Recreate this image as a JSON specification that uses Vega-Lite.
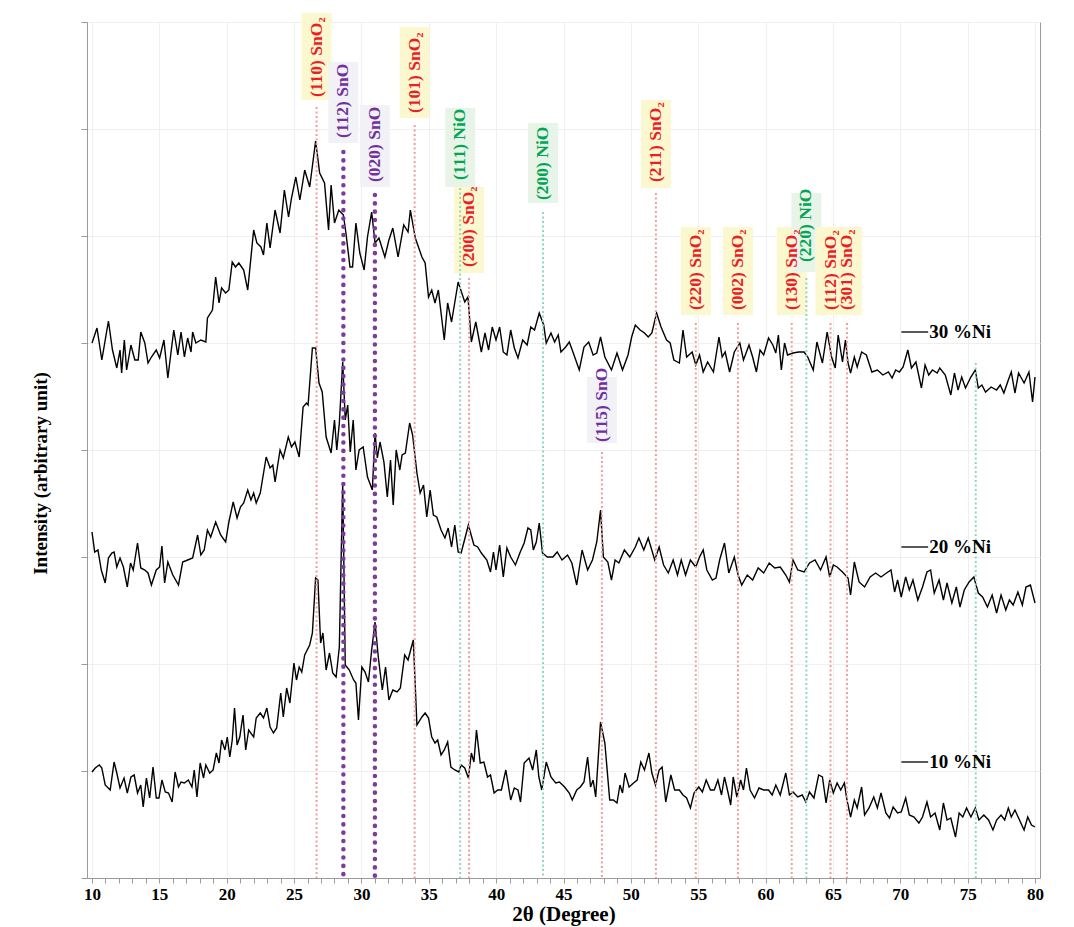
{
"$schema":"https://vega.github.io/schema/vega-lite/v6.json",
"autosize":{"type":"none"},
"padding":{"left":87,"top":22,"right":34,"bottom":49},
"width":953,"height":856,
"background":"white",
"config":{"view":{"stroke":"#9a9a9a","strokeWidth":1},"font":"Liberation Serif","axis":{"labelFont":"Liberation Serif","titleFont":"Liberation Serif","labelColor":"black","titleColor":"black","domainColor":"#9a9a9a","tickColor":"#9a9a9a","gridColor":"#efefef"}},
"datasets":{
"peaks":[
{"x":26.67,"phase":"SnO2","label":"(110) SnO₂","top":771,"ly":781,"bb":778,"bt":865},
{"x":28.66,"phase":"SnO","label":"(112) SnO","top":726,"ly":740,"bb":735,"bt":816},
{"x":31.0,"phase":"SnO","label":"(020) SnO","top":683,"ly":696,"bb":691,"bt":773},
{"x":33.95,"phase":"SnO2","label":"(101) SnO₂","top":753,"ly":765,"bb":760,"bt":851},
{"x":37.33,"phase":"NiO","label":"(111) NiO","top":690,"ly":698,"bb":691,"bt":770},
{"x":37.99,"phase":"SnO2","label":"(200) SnO₂","top":600,"ly":611,"bb":605,"bt":691},
{"x":43.48,"phase":"NiO","label":"(200) NiO","top":666,"ly":678,"bb":675,"bt":755},
{"x":47.85,"phase":"SnO","label":"(115) SnO","top":426,"ly":436,"bb":435,"bt":501},
{"x":51.86,"phase":"SnO2","label":"(211) SnO₂","top":685,"ly":696,"bb":690,"bt":778},
{"x":54.82,"phase":"SnO2","label":"(220) SnO₂","top":555,"ly":568,"bb":563,"bt":651},
{"x":57.95,"phase":"SnO2","label":"(002) SnO₂","top":555,"ly":568,"bb":563,"bt":651},
{"x":61.94,"phase":"SnO2","label":"(130) SnO₂","top":555,"ly":568,"bb":563,"bt":651},
{"x":63.03,"phase":"NiO","label":"(220) NiO","top":600,"ly":616,"bb":606,"bt":685},
{"x":64.82,"phase":"SnO2","label":"(112) SnO₂","top":555,"ly":568,"bb":563,"bt":651},
{"x":66.04,"phase":"SnO2","label":"(301) SnO₂","top":555,"ly":568,"bb":563,"bt":651},
{"x":75.6,"phase":"NiO","label":null,"top":515}
],
"keys":[
{"s":"30 %Ni","x":70.08,"x2":72.07,"v":546},
{"s":"20 %Ni","x":70.08,"x2":72.07,"v":331},
{"s":"10 %Ni","x":70.08,"x2":72.07,"v":116}
],
"xrd":[
{"s":"30","x":10,"v":535},{"s":"30","x":10.37,"v":550},{"s":"30","x":10.73,"v":518},{"s":"30","x":11.22,"v":557},{"s":"30","x":11.52,"v":528},{"s":"30","x":11.84,"v":510},{"s":"30","x":12.08,"v":528},{"s":"30","x":12.2,"v":505},{"s":"30","x":12.4,"v":538},{"s":"30","x":12.57,"v":508},{"s":"30","x":12.89,"v":533},{"s":"30","x":13.18,"v":518},{"s":"30","x":13.43,"v":518},{"s":"30","x":13.62,"v":546},{"s":"30","x":13.92,"v":535},{"s":"30","x":14.16,"v":515},{"s":"30","x":14.41,"v":521},{"s":"30","x":14.77,"v":528},{"s":"30","x":15.02,"v":520},{"s":"30","x":15.34,"v":538},{"s":"30","x":15.63,"v":500},{"s":"30","x":16.07,"v":548},{"s":"30","x":16.37,"v":523},{"s":"30","x":16.61,"v":546},{"s":"30","x":16.86,"v":521},{"s":"30","x":17.1,"v":540},{"s":"30","x":17.35,"v":526},{"s":"30","x":17.47,"v":546},{"s":"30","x":17.71,"v":535},{"s":"30","x":18.08,"v":538},{"s":"30","x":18.45,"v":536},{"s":"30","x":18.57,"v":560},{"s":"30","x":18.94,"v":568},{"s":"30","x":19.18,"v":601},{"s":"30","x":19.43,"v":575},{"s":"30","x":19.62,"v":590},{"s":"30","x":19.92,"v":585},{"s":"30","x":20.16,"v":588},{"s":"30","x":20.41,"v":616},{"s":"30","x":20.65,"v":611},{"s":"30","x":20.9,"v":615},{"s":"30","x":21.26,"v":608},{"s":"30","x":21.56,"v":588},{"s":"30","x":22,"v":648},{"s":"30","x":22.24,"v":635},{"s":"30","x":22.54,"v":631},{"s":"30","x":22.73,"v":623},{"s":"30","x":22.98,"v":655},{"s":"30","x":23.22,"v":630},{"s":"30","x":23.59,"v":668},{"s":"30","x":23.96,"v":645},{"s":"30","x":24.28,"v":688},{"s":"30","x":24.59,"v":661},{"s":"30","x":24.81,"v":680},{"s":"30","x":25.13,"v":701},{"s":"30","x":25.43,"v":678},{"s":"30","x":25.79,"v":708},{"s":"30","x":26.16,"v":691},{"s":"30","x":26.6,"v":737},{"s":"30","x":26.9,"v":705},{"s":"30","x":27.26,"v":695},{"s":"30","x":27.56,"v":648},{"s":"30","x":27.75,"v":693},{"s":"30","x":28,"v":655},{"s":"30","x":28.32,"v":668},{"s":"30","x":28.66,"v":663},{"s":"30","x":28.85,"v":645},{"s":"30","x":29.15,"v":611},{"s":"30","x":29.34,"v":611},{"s":"30","x":29.59,"v":655},{"s":"30","x":29.88,"v":625},{"s":"30","x":30.2,"v":608},{"s":"30","x":30.45,"v":641},{"s":"30","x":30.76,"v":666},{"s":"30","x":31.01,"v":635},{"s":"30","x":31.3,"v":640},{"s":"30","x":31.74,"v":621},{"s":"30","x":32.04,"v":638},{"s":"30","x":32.33,"v":650},{"s":"30","x":32.72,"v":621},{"s":"30","x":33.14,"v":653},{"s":"30","x":33.46,"v":646},{"s":"30","x":33.63,"v":668},{"s":"30","x":34,"v":640},{"s":"30","x":34.49,"v":621},{"s":"30","x":34.73,"v":615},{"s":"30","x":34.98,"v":581},{"s":"30","x":35.22,"v":588},{"s":"30","x":35.46,"v":575},{"s":"30","x":35.71,"v":588},{"s":"30","x":36.15,"v":538},{"s":"30","x":36.4,"v":575},{"s":"30","x":36.69,"v":556},{"s":"30","x":37.18,"v":596},{"s":"30","x":37.67,"v":576},{"s":"30","x":37.91,"v":581},{"s":"30","x":38.16,"v":536},
{"s":"30","x":38.49,"v":556},{"s":"30","x":38.9,"v":526},{"s":"30","x":39.17,"v":545},{"s":"30","x":39.44,"v":528},{"s":"30","x":39.71,"v":551},{"s":"30","x":39.99,"v":538},{"s":"30","x":40.26,"v":551},{"s":"30","x":40.53,"v":526},{"s":"30","x":40.8,"v":523},{"s":"30","x":41.08,"v":548},{"s":"30","x":41.35,"v":530},{"s":"30","x":41.62,"v":520},{"s":"30","x":41.97,"v":538},{"s":"30","x":42.3,"v":533},{"s":"30","x":42.57,"v":551},{"s":"30","x":42.85,"v":548},{"s":"30","x":43.2,"v":565},{"s":"30","x":43.53,"v":553},{"s":"30","x":43.72,"v":535},{"s":"30","x":44.07,"v":545},{"s":"30","x":44.34,"v":536},{"s":"30","x":44.61,"v":543},{"s":"30","x":44.81,"v":526},{"s":"30","x":45.16,"v":531},{"s":"30","x":45.43,"v":536},{"s":"30","x":45.7,"v":526},{"s":"30","x":46.17,"v":508},{"s":"30","x":46.52,"v":531},{"s":"30","x":46.87,"v":536},{"s":"30","x":47.2,"v":523},{"s":"30","x":47.47,"v":525},{"s":"30","x":47.75,"v":541},{"s":"30","x":48.07,"v":521},{"s":"30","x":48.56,"v":508},{"s":"30","x":48.97,"v":525},{"s":"30","x":49.38,"v":508},{"s":"30","x":49.79,"v":523},{"s":"30","x":50.06,"v":541},{"s":"30","x":50.33,"v":553},{"s":"30","x":50.69,"v":548},{"s":"30","x":51.01,"v":545},{"s":"30","x":51.29,"v":541},{"s":"30","x":51.56,"v":545},{"s":"30","x":51.91,"v":565},{"s":"30","x":52.24,"v":551},{"s":"30","x":52.65,"v":538},{"s":"30","x":52.92,"v":535},{"s":"30","x":53.19,"v":518},{"s":"30","x":53.6,"v":515},{"s":"30","x":53.87,"v":548},{"s":"30","x":54.14,"v":521},{"s":"30","x":54.55,"v":526},{"s":"30","x":54.82,"v":513},{"s":"30","x":55.1,"v":523},{"s":"30","x":55.37,"v":506},{"s":"30","x":55.7,"v":516},{"s":"30","x":56.13,"v":506},{"s":"30","x":56.54,"v":541},{"s":"30","x":56.78,"v":521},{"s":"30","x":57,"v":526},{"s":"30","x":57.33,"v":506},{"s":"30","x":57.68,"v":526},{"s":"30","x":58.09,"v":535},{"s":"30","x":58.36,"v":518},{"s":"30","x":58.77,"v":533},{"s":"30","x":59.04,"v":521},{"s":"30","x":59.32,"v":506},{"s":"30","x":59.59,"v":528},{"s":"30","x":59.86,"v":523},{"s":"30","x":60.22,"v":540},{"s":"30","x":60.54,"v":533},{"s":"30","x":60.76,"v":525},{"s":"30","x":60.95,"v":543},{"s":"30","x":61.17,"v":508},{"s":"30","x":61.41,"v":535},{"s":"30","x":61.63,"v":523},{"s":"30","x":62.04,"v":525},{"s":"30","x":62.45,"v":526},{"s":"30","x":62.86,"v":526},{"s":"30","x":63.13,"v":521},{"s":"30","x":63.54,"v":508},{"s":"30","x":63.81,"v":536},{"s":"30","x":64.22,"v":515},{"s":"30","x":64.57,"v":546},{"s":"30","x":64.9,"v":521},{"s":"30","x":65.17,"v":510},{"s":"30","x":65.39,"v":543},{"s":"30","x":65.71,"v":516},{"s":"30","x":65.93,"v":538},{"s":"30","x":66.12,"v":515},{"s":"30","x":66.31,"v":505},{"s":"30","x":66.59,"v":521},{"s":"30","x":66.8,"v":511},{"s":"30","x":67.13,"v":526},{"s":"30","x":67.48,"v":523},{"s":"30","x":67.89,"v":506},{"s":"30","x":68.3,"v":508},{"s":"30","x":68.71,"v":503},{"s":"30","x":69.12,"v":506},{"s":"30","x":69.39,"v":500},{"s":"30","x":69.66,"v":508},{"s":"30","x":69.93,"v":506},{"s":"30","x":70.21,"v":511},{"s":"30","x":70.56,"v":528},{"s":"30","x":70.83,"v":510},{"s":"30","x":71.16,"v":516},{"s":"30","x":71.57,"v":490},{"s":"30","x":71.84,"v":513},{"s":"30","x":72.11,"v":503},{"s":"30","x":72.39,"v":508},{"s":"30","x":72.74,"v":505},{"s":"30","x":72.93,"v":510},{"s":"30","x":73.34,"v":503},{"s":"30","x":73.75,"v":483},{"s":"30","x":74.02,"v":505},{"s":"30","x":74.29,"v":488},{"s":"30","x":74.56,"v":501},{"s":"30","x":74.84,"v":490},{"s":"30","x":75.24,"v":501},{"s":"30","x":75.57,"v":508},{"s":"30","x":75.79,"v":490},{"s":"30","x":76.06,"v":493},{"s":"30","x":76.33,"v":486},{"s":"30","x":76.74,"v":491},{"s":"30","x":77.15,"v":488},{"s":"30","x":77.42,"v":493},{"s":"30","x":77.69,"v":485},{"s":"30","x":78.02,"v":498},{"s":"30","x":78.24,"v":506},{"s":"30","x":78.51,"v":485},{"s":"30","x":78.78,"v":505},{"s":"30","x":79.19,"v":495},{"s":"30","x":79.55,"v":506},{"s":"30","x":79.82,"v":476},{"s":"30","x":80,"v":501},
{"s":"20","x":10,"v":346},{"s":"20","x":10.2,"v":326},{"s":"20","x":10.44,"v":328},{"s":"20","x":10.69,"v":308},{"s":"20","x":10.98,"v":295},{"s":"20","x":11.22,"v":320},{"s":"20","x":11.47,"v":325},{"s":"20","x":11.64,"v":326},{"s":"20","x":11.84,"v":311},{"s":"20","x":12.08,"v":320},{"s":"20","x":12.33,"v":311},{"s":"20","x":12.62,"v":291},{"s":"20","x":12.86,"v":315},{"s":"20","x":13.06,"v":308},{"s":"20","x":13.38,"v":335},{"s":"20","x":13.62,"v":310},{"s":"20","x":13.92,"v":308},{"s":"20","x":14.16,"v":305},{"s":"20","x":14.41,"v":293},{"s":"20","x":14.77,"v":308},{"s":"20","x":15.02,"v":311},{"s":"20","x":15.19,"v":332},{"s":"20","x":15.39,"v":295},{"s":"20","x":15.63,"v":316},{"s":"20","x":16,"v":303},{"s":"20","x":16.42,"v":293},{"s":"20","x":16.73,"v":316},{"s":"20","x":17.1,"v":318},{"s":"20","x":17.47,"v":320},{"s":"20","x":17.84,"v":343},{"s":"20","x":18.08,"v":323},{"s":"20","x":18.33,"v":328},{"s":"20","x":18.57,"v":348},{"s":"20","x":18.81,"v":341},{"s":"20","x":19.18,"v":356},{"s":"20","x":19.55,"v":343},{"s":"20","x":19.92,"v":336},{"s":"20","x":20.16,"v":356},{"s":"20","x":20.48,"v":376},{"s":"20","x":20.77,"v":360},{"s":"20","x":21.02,"v":371},{"s":"20","x":21.26,"v":375},{"s":"20","x":21.56,"v":388},{"s":"20","x":21.8,"v":378},{"s":"20","x":22,"v":385},{"s":"20","x":22.19,"v":375},{"s":"20","x":22.49,"v":385},{"s":"20","x":22.93,"v":421},{"s":"20","x":23.22,"v":410},{"s":"20","x":23.42,"v":413},{"s":"20","x":23.59,"v":396},{"s":"20","x":23.96,"v":428},{"s":"20","x":24.2,"v":420},{"s":"20","x":24.57,"v":441},{"s":"20","x":24.81,"v":431},{"s":"20","x":25.06,"v":436},{"s":"20","x":25.38,"v":421},{"s":"20","x":25.67,"v":471},{"s":"20","x":25.92,"v":475},{"s":"20","x":26.04,"v":473},{"s":"20","x":26.36,"v":530},{"s":"20","x":26.6,"v":530},{"s":"20","x":26.85,"v":495},{"s":"20","x":27.09,"v":486},{"s":"20","x":27.38,"v":441},{"s":"20","x":27.75,"v":425},{"s":"20","x":28,"v":458},{"s":"20","x":28.17,"v":428},{"s":"20","x":28.36,"v":455},{"s":"20","x":28.61,"v":516},{"s":"20","x":28.8,"v":458},{"s":"20","x":28.98,"v":473},{"s":"20","x":29.17,"v":426},{"s":"20","x":29.39,"v":458},{"s":"20","x":29.59,"v":408},{"s":"20","x":29.83,"v":428},{"s":"20","x":30.13,"v":431},{"s":"20","x":30.45,"v":401},{"s":"20","x":30.81,"v":388},{"s":"20","x":31.01,"v":445},{"s":"20","x":31.18,"v":420},{"s":"20","x":31.38,"v":436},{"s":"20","x":31.67,"v":416},{"s":"20","x":31.92,"v":381},{"s":"20","x":32.16,"v":418},{"s":"20","x":32.36,"v":373},{"s":"20","x":32.58,"v":428},{"s":"20","x":32.85,"v":408},{"s":"20","x":33.02,"v":423},{"s":"20","x":33.26,"v":425},{"s":"20","x":33.58,"v":455},{"s":"20","x":33.8,"v":443},{"s":"20","x":34.12,"v":405},{"s":"20","x":34.36,"v":385},{"s":"20","x":34.61,"v":393},{"s":"20","x":34.85,"v":361},{"s":"20","x":35.1,"v":388},{"s":"20","x":35.34,"v":363},{"s":"20","x":35.59,"v":361},{"s":"20","x":35.91,"v":348},{"s":"20","x":36.2,"v":340},{"s":"20","x":36.44,"v":350},{"s":"20","x":36.69,"v":331},{"s":"20","x":36.93,"v":353},{"s":"20","x":37.18,"v":326},
{"s":"20","x":37.4,"v":325},{"s":"20","x":37.94,"v":353},{"s":"20","x":38.35,"v":333},{"s":"20","x":38.63,"v":331},{"s":"20","x":38.9,"v":325},{"s":"20","x":39.31,"v":318},{"s":"20","x":39.58,"v":306},{"s":"20","x":39.8,"v":326},{"s":"20","x":39.99,"v":308},{"s":"20","x":40.26,"v":333},{"s":"20","x":40.53,"v":301},{"s":"20","x":40.8,"v":330},{"s":"20","x":41.08,"v":321},{"s":"20","x":41.43,"v":313},{"s":"20","x":41.76,"v":325},{"s":"20","x":42.08,"v":335},{"s":"20","x":42.36,"v":350},{"s":"20","x":42.57,"v":348},{"s":"20","x":42.76,"v":328},{"s":"20","x":42.98,"v":336},{"s":"20","x":43.2,"v":355},{"s":"20","x":43.44,"v":325},{"s":"20","x":43.8,"v":321},{"s":"20","x":44.21,"v":321},{"s":"20","x":44.53,"v":326},{"s":"20","x":44.89,"v":318},{"s":"20","x":45.3,"v":323},{"s":"20","x":45.62,"v":315},{"s":"20","x":45.98,"v":293},{"s":"20","x":46.38,"v":328},{"s":"20","x":46.79,"v":308},{"s":"20","x":47.15,"v":318},{"s":"20","x":47.47,"v":336},{"s":"20","x":47.75,"v":368},{"s":"20","x":47.96,"v":321},{"s":"20","x":48.29,"v":316},{"s":"20","x":48.56,"v":298},{"s":"20","x":48.83,"v":318},{"s":"20","x":49.11,"v":315},{"s":"20","x":49.52,"v":328},{"s":"20","x":49.92,"v":321},{"s":"20","x":50.33,"v":331},{"s":"20","x":50.6,"v":340},{"s":"20","x":50.96,"v":328},{"s":"20","x":51.29,"v":340},{"s":"20","x":51.77,"v":318},{"s":"20","x":52.1,"v":331},{"s":"20","x":52.43,"v":313},{"s":"20","x":52.78,"v":305},{"s":"20","x":53.14,"v":318},{"s":"20","x":53.46,"v":303},{"s":"20","x":53.74,"v":318},{"s":"20","x":54.06,"v":303},{"s":"20","x":54.42,"v":318},{"s":"20","x":54.82,"v":311},{"s":"20","x":55.1,"v":321},{"s":"20","x":55.37,"v":328},{"s":"20","x":55.64,"v":308},{"s":"20","x":56.05,"v":298},{"s":"20","x":56.32,"v":300},{"s":"20","x":56.59,"v":318},{"s":"20","x":56.95,"v":335},{"s":"20","x":57.27,"v":305},{"s":"20","x":57.68,"v":321},{"s":"20","x":57.96,"v":303},{"s":"20","x":58.23,"v":293},{"s":"20","x":58.64,"v":303},{"s":"20","x":59.04,"v":298},{"s":"20","x":59.45,"v":310},{"s":"20","x":59.86,"v":305},{"s":"20","x":60.27,"v":315},{"s":"20","x":60.68,"v":310},{"s":"20","x":61.09,"v":311},{"s":"20","x":61.5,"v":303},{"s":"20","x":61.77,"v":296},{"s":"20","x":62.04,"v":318},{"s":"20","x":62.39,"v":308},{"s":"20","x":62.86,"v":306},{"s":"20","x":63.26,"v":315},{"s":"20","x":63.67,"v":318},{"s":"20","x":64.08,"v":308},{"s":"20","x":64.49,"v":321},{"s":"20","x":64.76,"v":301},{"s":"20","x":65.03,"v":313},{"s":"20","x":65.31,"v":311},{"s":"20","x":65.71,"v":306},{"s":"20","x":66.12,"v":300},{"s":"20","x":66.31,"v":283},{"s":"20","x":66.59,"v":316},{"s":"20","x":66.94,"v":296},{"s":"20","x":67.35,"v":291},{"s":"20","x":67.76,"v":301},{"s":"20","x":68.17,"v":305},{"s":"20","x":68.57,"v":301},{"s":"20","x":68.98,"v":305},{"s":"20","x":69.31,"v":308},{"s":"20","x":69.58,"v":286},{"s":"20","x":69.8,"v":298},{"s":"20","x":70.07,"v":281},{"s":"20","x":70.4,"v":301},{"s":"20","x":70.67,"v":288},{"s":"20","x":70.94,"v":298},{"s":"20","x":71.3,"v":278},{"s":"20","x":71.65,"v":291},{"s":"20","x":71.98,"v":306},{"s":"20","x":72.25,"v":308},{"s":"20","x":72.52,"v":285},{"s":"20","x":72.88,"v":298},{"s":"20","x":73.2,"v":278},{"s":"20","x":73.47,"v":295},{"s":"20","x":73.83,"v":275},{"s":"20","x":74.16,"v":291},{"s":"20","x":74.43,"v":271},{"s":"20","x":74.75,"v":288},{"s":"20","x":75.11,"v":296},{"s":"20","x":75.46,"v":301},{"s":"20","x":75.79,"v":285},{"s":"20","x":76.11,"v":281},{"s":"20","x":76.47,"v":271},{"s":"20","x":76.82,"v":283},{"s":"20","x":77.15,"v":265},{"s":"20","x":77.48,"v":283},{"s":"20","x":77.83,"v":268},{"s":"20","x":78.1,"v":278},{"s":"20","x":78.38,"v":273},{"s":"20","x":78.73,"v":286},{"s":"20","x":79.06,"v":273},{"s":"20","x":79.33,"v":291},{"s":"20","x":79.66,"v":293},{"s":"20","x":80,"v":275},
{"s":"10","x":10,"v":106},{"s":"10","x":10.24,"v":110},{"s":"10","x":10.54,"v":113},{"s":"10","x":10.73,"v":110},{"s":"10","x":10.98,"v":93},{"s":"10","x":11.35,"v":88},{"s":"10","x":11.64,"v":116},{"s":"10","x":11.84,"v":105},{"s":"10","x":12.08,"v":90},{"s":"10","x":12.38,"v":100},{"s":"10","x":12.62,"v":85},{"s":"10","x":12.89,"v":101},{"s":"10","x":13.13,"v":103},{"s":"10","x":13.38,"v":85},{"s":"10","x":13.62,"v":93},{"s":"10","x":13.8,"v":71},{"s":"10","x":14.04,"v":100},{"s":"10","x":14.28,"v":80},{"s":"10","x":14.53,"v":111},{"s":"10","x":14.77,"v":80},{"s":"10","x":14.97,"v":80},{"s":"10","x":15.19,"v":98},{"s":"10","x":15.44,"v":86},{"s":"10","x":15.68,"v":85},{"s":"10","x":15.95,"v":76},{"s":"10","x":16.17,"v":106},{"s":"10","x":16.42,"v":91},{"s":"10","x":16.61,"v":96},{"s":"10","x":16.86,"v":95},{"s":"10","x":17.15,"v":98},{"s":"10","x":17.42,"v":91},{"s":"10","x":17.59,"v":108},{"s":"10","x":17.79,"v":81},{"s":"10","x":18.03,"v":115},{"s":"10","x":18.28,"v":100},{"s":"10","x":18.45,"v":113},{"s":"10","x":18.74,"v":105},{"s":"10","x":18.99,"v":108},{"s":"10","x":19.23,"v":125},{"s":"10","x":19.43,"v":115},{"s":"10","x":19.62,"v":138},{"s":"10","x":19.87,"v":128},{"s":"10","x":20.04,"v":141},{"s":"10","x":20.23,"v":121},{"s":"10","x":20.41,"v":138},{"s":"10","x":20.58,"v":170},{"s":"10","x":20.77,"v":133},{"s":"10","x":20.97,"v":141},{"s":"10","x":21.21,"v":163},{"s":"10","x":21.41,"v":128},{"s":"10","x":21.63,"v":148},{"s":"10","x":22,"v":141},{"s":"10","x":22.19,"v":160},{"s":"10","x":22.49,"v":165},{"s":"10","x":22.73,"v":160},{"s":"10","x":22.98,"v":170},{"s":"10","x":23.22,"v":151},{"s":"10","x":23.47,"v":145},{"s":"10","x":23.71,"v":150},{"s":"10","x":24.01,"v":185},{"s":"10","x":24.2,"v":161},{"s":"10","x":24.45,"v":190},{"s":"10","x":24.69,"v":175},{"s":"10","x":24.99,"v":215},{"s":"10","x":25.18,"v":198},{"s":"10","x":25.38,"v":211},{"s":"10","x":25.57,"v":206},{"s":"10","x":25.79,"v":223},{"s":"10","x":26.16,"v":233},{"s":"10","x":26.36,"v":245},{"s":"10","x":26.6,"v":300},{"s":"10","x":26.77,"v":298},{"s":"10","x":26.97,"v":235},{"s":"10","x":27.14,"v":245},{"s":"10","x":27.38,"v":208},{"s":"10","x":27.63,"v":225},{"s":"10","x":27.87,"v":205},{"s":"10","x":28.12,"v":201},{"s":"10","x":28.36,"v":231},{"s":"10","x":28.61,"v":396},{"s":"10","x":28.8,"v":213},{"s":"10","x":29.1,"v":208},{"s":"10","x":29.42,"v":198},{"s":"10","x":29.59,"v":195},{"s":"10","x":29.78,"v":158},{"s":"10","x":30.03,"v":211},{"s":"10","x":30.27,"v":206},{"s":"10","x":30.52,"v":196},{"s":"10","x":30.76,"v":228},{"s":"10","x":31.01,"v":256},{"s":"10","x":31.25,"v":221},{"s":"10","x":31.55,"v":188},{"s":"10","x":31.79,"v":211},{"s":"10","x":32.04,"v":178},{"s":"10","x":32.33,"v":188},{"s":"10","x":32.65,"v":186},{"s":"10","x":32.89,"v":190},{"s":"10","x":33.21,"v":223},{"s":"10","x":33.46,"v":218},{"s":"10","x":33.85,"v":238},{"s":"10","x":34.12,"v":153},{"s":"10","x":34.49,"v":161},{"s":"10","x":34.73,"v":165},{"s":"10","x":34.98,"v":160},{"s":"10","x":35.22,"v":141},{"s":"10","x":35.46,"v":135},{"s":"10","x":35.66,"v":138},{"s":"10","x":35.91,"v":123},{"s":"10","x":36.15,"v":128},{"s":"10","x":36.4,"v":136},{"s":"10","x":36.64,"v":111},{"s":"10","x":36.93,"v":108},{"s":"10","x":37.23,"v":106},
{"s":"10","x":37.4,"v":113},{"s":"10","x":37.67,"v":110},{"s":"10","x":37.94,"v":100},{"s":"10","x":38.16,"v":125},{"s":"10","x":38.35,"v":116},{"s":"10","x":38.54,"v":148},{"s":"10","x":38.82,"v":115},{"s":"10","x":39.09,"v":116},{"s":"10","x":39.36,"v":101},{"s":"10","x":39.58,"v":103},{"s":"10","x":39.85,"v":85},{"s":"10","x":40.12,"v":88},{"s":"10","x":40.39,"v":88},{"s":"10","x":40.72,"v":108},{"s":"10","x":41.08,"v":78},{"s":"10","x":41.35,"v":90},{"s":"10","x":41.62,"v":88},{"s":"10","x":41.81,"v":76},{"s":"10","x":42.08,"v":115},{"s":"10","x":42.44,"v":120},{"s":"10","x":42.71,"v":108},{"s":"10","x":42.98,"v":128},{"s":"10","x":43.17,"v":101},{"s":"10","x":43.39,"v":88},{"s":"10","x":43.72,"v":116},{"s":"10","x":44.07,"v":101},{"s":"10","x":44.42,"v":95},{"s":"10","x":44.7,"v":96},{"s":"10","x":45.08,"v":91},{"s":"10","x":45.43,"v":85},{"s":"10","x":45.65,"v":78},{"s":"10","x":45.98,"v":88},{"s":"10","x":46.25,"v":91},{"s":"10","x":46.52,"v":96},{"s":"10","x":46.79,"v":121},{"s":"10","x":47.01,"v":91},{"s":"10","x":47.2,"v":98},{"s":"10","x":47.39,"v":81},{"s":"10","x":47.75,"v":156},{"s":"10","x":48.07,"v":135},{"s":"10","x":48.43,"v":78},{"s":"10","x":48.7,"v":78},{"s":"10","x":48.97,"v":75},{"s":"10","x":49.19,"v":93},{"s":"10","x":49.38,"v":85},{"s":"10","x":49.57,"v":105},{"s":"10","x":49.87,"v":91},{"s":"10","x":50.2,"v":95},{"s":"10","x":50.47,"v":98},{"s":"10","x":50.74,"v":116},{"s":"10","x":51.01,"v":108},{"s":"10","x":51.34,"v":125},{"s":"10","x":51.56,"v":105},{"s":"10","x":51.83,"v":93},{"s":"10","x":52.1,"v":108},{"s":"10","x":52.32,"v":111},{"s":"10","x":52.59,"v":76},{"s":"10","x":52.97,"v":103},{"s":"10","x":53.25,"v":88},{"s":"10","x":53.6,"v":88},{"s":"10","x":53.87,"v":83},{"s":"10","x":54.14,"v":80},{"s":"10","x":54.42,"v":70},{"s":"10","x":54.69,"v":85},{"s":"10","x":55.04,"v":91},{"s":"10","x":55.31,"v":86},{"s":"10","x":55.59,"v":98},{"s":"10","x":55.91,"v":88},{"s":"10","x":56.19,"v":88},{"s":"10","x":56.46,"v":98},{"s":"10","x":56.73,"v":83},{"s":"10","x":56.95,"v":101},{"s":"10","x":57.22,"v":85},{"s":"10","x":57.41,"v":73},{"s":"10","x":57.6,"v":101},{"s":"10","x":57.87,"v":81},{"s":"10","x":58.15,"v":98},{"s":"10","x":58.36,"v":88},{"s":"10","x":58.58,"v":110},{"s":"10","x":58.85,"v":88},{"s":"10","x":59.18,"v":80},{"s":"10","x":59.51,"v":90},{"s":"10","x":59.86,"v":88},{"s":"10","x":60.22,"v":88},{"s":"10","x":60.49,"v":83},{"s":"10","x":60.76,"v":93},{"s":"10","x":61.09,"v":83},{"s":"10","x":61.5,"v":105},{"s":"10","x":61.77,"v":83},{"s":"10","x":62.04,"v":86},{"s":"10","x":62.39,"v":81},{"s":"10","x":62.72,"v":83},{"s":"10","x":62.99,"v":76},{"s":"10","x":63.26,"v":86},{"s":"10","x":63.59,"v":80},{"s":"10","x":63.94,"v":103},{"s":"10","x":64.22,"v":101},{"s":"10","x":64.49,"v":75},{"s":"10","x":64.76,"v":98},{"s":"10","x":65.03,"v":85},{"s":"10","x":65.31,"v":95},{"s":"10","x":65.58,"v":88},{"s":"10","x":65.85,"v":95},{"s":"10","x":66.04,"v":78},{"s":"10","x":66.31,"v":61},{"s":"10","x":66.59,"v":78},{"s":"10","x":66.8,"v":70},{"s":"10","x":67.13,"v":91},{"s":"10","x":67.35,"v":63},{"s":"10","x":67.68,"v":70},{"s":"10","x":68.03,"v":81},{"s":"10","x":68.3,"v":70},{"s":"10","x":68.57,"v":85},{"s":"10","x":68.93,"v":65},{"s":"10","x":69.2,"v":60},{"s":"10","x":69.47,"v":71},{"s":"10","x":69.8,"v":65},{"s":"10","x":70.07,"v":66},{"s":"10","x":70.4,"v":80},{"s":"10","x":70.67,"v":63},{"s":"10","x":71.02,"v":61},{"s":"10","x":71.38,"v":55},{"s":"10","x":71.65,"v":61},{"s":"10","x":71.98,"v":76},{"s":"10","x":72.25,"v":61},{"s":"10","x":72.58,"v":65},{"s":"10","x":72.93,"v":48},{"s":"10","x":73.2,"v":75},{"s":"10","x":73.47,"v":58},{"s":"10","x":73.75,"v":60},{"s":"10","x":74.1,"v":41},{"s":"10","x":74.37,"v":65},{"s":"10","x":74.64,"v":61},{"s":"10","x":74.92,"v":70},{"s":"10","x":75.24,"v":61},{"s":"10","x":75.57,"v":70},{"s":"10","x":75.84,"v":58},{"s":"10","x":76.2,"v":63},{"s":"10","x":76.55,"v":58},{"s":"10","x":76.88,"v":48},{"s":"10","x":77.15,"v":58},{"s":"10","x":77.48,"v":63},{"s":"10","x":77.75,"v":58},{"s":"10","x":78.02,"v":70},{"s":"10","x":78.24,"v":61},{"s":"10","x":78.51,"v":68},{"s":"10","x":78.78,"v":60},{"s":"10","x":79.19,"v":48},{"s":"10","x":79.46,"v":61},{"s":"10","x":79.74,"v":53},{"s":"10","x":80,"v":51}
]
},
"encoding":{"x":{"field":"x","type":"quantitative","scale":{"domain":[10,80],"nice":false,"zero":false},
 "axis":{"values":[10,11,12,13,14,15,16,17,18,19,20,21,22,23,24,25,26,27,28,29,30,31,32,33,34,35,36,37,38,39,40,41,42,43,44,45,46,47,48,49,50,51,52,53,54,55,56,57,58,59,60,61,62,63,64,65,66,67,68,69,70,71,72,73,74,75,76,77,78,79,80],
 "labelExpr":"datum.value % 5 === 0 ? datum.label : ''","title":"2θ (Degree)","grid":true,
 "gridOpacity":{"condition":{"test":"datum.value % 5 === 0","value":1},"value":0},
 "tickSize":5,"labelFontWeight":"bold","labelFontSize":17,"labelPadding":3,"labelFlush":false,"labelOverlap":false,
 "titleFontSize":21,"titleFontWeight":"bold","titlePadding":1}}},
"layer":[
{"data":{"name":"peaks"},"transform":[{"filter":"datum.label != null"}],
 "mark":{"type":"bar","size":30,"clip":false},
 "encoding":{"y":{"field":"bb","type":"quantitative","scale":{"domain":[0,856],"nice":false,"zero":false},"title":"Intensity (arbitrary unit)"},
  "y2":{"field":"bt"},
  "color":{"field":"phase","type":"nominal","scale":{"domain":["SnO2","SnO","NiO"],"range":["#fbf8cf","#f1f1f6","#e9f4e9"]},"legend":null}}},
{"data":{"name":"xrd"},"mark":{"type":"line","color":"black","strokeWidth":1.4},
 "encoding":{"y":{"field":"v","type":"quantitative","scale":{"domain":[0,856],"nice":false,"zero":false},"title":"Intensity (arbitrary unit)",
   "axis":{"values":[0,107,214,321,428,535,642,749,856],"labels":false,"tickSize":6,"grid":true,"titleFontSize":19,"titleFontWeight":"bold","titleX":-37,"titleY":451,"titleBaseline":"bottom"}},
  "detail":{"field":"s"}}},
{"data":{"name":"peaks"},"transform":[{"filter":"datum.phase === 'SnO2' || (datum.phase === 'SnO' && datum.x > 40)"}],
 "mark":{"type":"rule","color":"#f39c9c","strokeWidth":2,"strokeDash":[2,2.5]},
 "encoding":{"y":{"field":"top","type":"quantitative","scale":{"domain":[0,856],"nice":false,"zero":false},"title":"Intensity (arbitrary unit)"},"y2":{"datum":0}}},
{"data":{"name":"peaks"},"transform":[{"filter":"datum.phase === 'NiO'"}],
 "mark":{"type":"rule","color":"#8fd8b8","strokeWidth":2,"strokeDash":[2,2.5]},
 "encoding":{"y":{"field":"top","type":"quantitative","scale":{"domain":[0,856],"nice":false,"zero":false},"title":"Intensity (arbitrary unit)"},"y2":{"datum":0}}},
{"data":{"name":"peaks"},"transform":[{"filter":"datum.phase === 'SnO' && datum.x < 40"}],
 "mark":{"type":"rule","color":"#7d3c98","strokeWidth":4.5,"strokeDash":[0.1,8.2],"strokeCap":"round"},
 "encoding":{"y":{"field":"top","type":"quantitative","scale":{"domain":[0,856],"nice":false,"zero":false},"title":"Intensity (arbitrary unit)"},"y2":{"datum":0}}},
{"data":{"name":"peaks"},"transform":[{"filter":"datum.label != null"}],
 "mark":{"type":"text","angle":270,"align":"left","baseline":"middle","font":"Liberation Serif","fontWeight":"bold","fontSize":17.5,"clip":false},
 "encoding":{"y":{"field":"ly","type":"quantitative","scale":{"domain":[0,856],"nice":false,"zero":false},"title":"Intensity (arbitrary unit)"},
  "text":{"field":"label"},
  "color":{"field":"phase","type":"nominal","scale":{"domain":["SnO2","SnO","NiO"],"range":["#ee1c25","#7030a0","#00a651"]},"legend":null}}},
{"data":{"name":"keys"},"mark":{"type":"rule","color":"black","strokeWidth":1.3},
 "encoding":{"x2":{"field":"x2"},"y":{"field":"v","type":"quantitative","scale":{"domain":[0,856],"nice":false,"zero":false},"title":"Intensity (arbitrary unit)"}}},
{"data":{"name":"keys"},"mark":{"type":"text","align":"left","baseline":"middle","font":"Liberation Serif","fontWeight":"bold","fontSize":19,"dx":1,"color":"black"},
 "encoding":{"x":{"field":"x2","type":"quantitative"},"y":{"field":"v","type":"quantitative","scale":{"domain":[0,856],"nice":false,"zero":false},"title":"Intensity (arbitrary unit)"},"text":{"field":"s"}}}
],
"resolve":{"scale":{"color":"independent"}}
}
